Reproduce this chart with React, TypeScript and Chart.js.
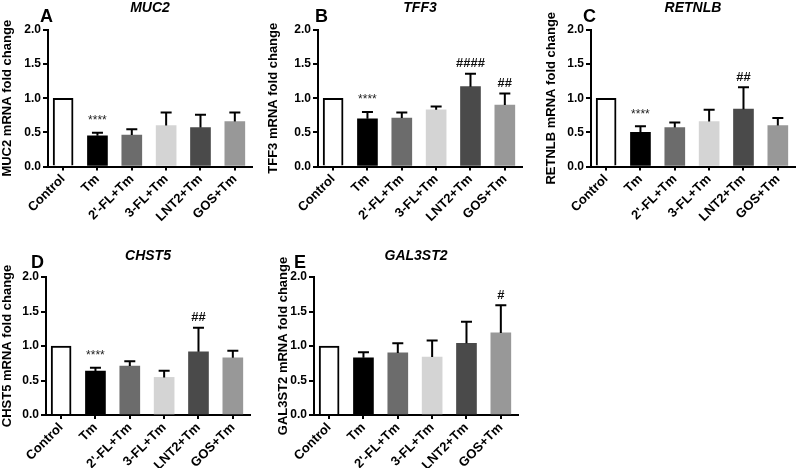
import React, { useEffect, useRef } from 'react';
import { Chart, registerables } from 'chart.js';

Chart.register(...registerables);

// ---------- data ----------
const categories = ['Control', 'Tm', "2'-FL+Tm", '3-FL+Tm', 'LNT2+Tm', 'GOS+Tm'];
const yTickValues = [0, 0.5, 1.0, 1.5, 2.0];

const muc2Means = [1.0, 0.45, 0.46, 0.6, 0.57, 0.66];
const muc2Errors = [0, 0.045, 0.085, 0.19, 0.19, 0.13];
const muc2Marks = ['', '****', '', '', '', ''];

const tff3Means = [1.0, 0.7, 0.71, 0.83, 1.17, 0.9];
const tff3Errors = [0, 0.1, 0.08, 0.05, 0.19, 0.17];
const tff3Marks = ['', '****', '', '', '####', '##'];

const retnlbMeans = [1.0, 0.5, 0.57, 0.66, 0.84, 0.6];
const retnlbErrors = [0, 0.09, 0.075, 0.17, 0.32, 0.11];
const retnlbMarks = ['', '****', '', '', '##', ''];

const chst5Means = [1.0, 0.635, 0.71, 0.545, 0.915, 0.83];
const chst5Errors = [0, 0.05, 0.07, 0.095, 0.35, 0.1];
const chst5Marks = ['', '****', '', '', '##', ''];

const gal3st2Means = [1.0, 0.83, 0.9, 0.84, 1.04, 1.19];
const gal3st2Errors = [0, 0.08, 0.14, 0.24, 0.31, 0.4];
const gal3st2Marks = ['', '', '', '', '', '#'];

// ---------- styles ----------
const barColors = ['#ffffff', '#000000', '#6c6c6c', '#d4d4d4', '#4a4a4a', '#989898'];
const FONT = "'Liberation Sans', Arial, Helvetica, sans-serif";

type PanelLayout = {
  letter: string;
  gene: string;
  means: number[];
  errors: number[];
  marks: string[];
  left: number;
  top: number;
  width: number;
  height: number;
  axisX: number;
  plotTop: number;
  plotBottom: number;
  letterX: number;
  letterBaseline: number;
  titleY: number;
};

const PLOT_W = 204;

const panels: PanelLayout[] = [
  { letter: 'A', gene: 'MUC2', means: muc2Means, errors: muc2Errors, marks: muc2Marks,
    left: 0, top: 0, width: 265, height: 235, axisX: 48, plotTop: 30, plotBottom: 166.5,
    letterX: 40, letterBaseline: 22, titleY: 8 },
  { letter: 'B', gene: 'TFF3', means: tff3Means, errors: tff3Errors, marks: tff3Marks,
    left: 266, top: 0, width: 270, height: 235, axisX: 318, plotTop: 30, plotBottom: 166.5,
    letterX: 315, letterBaseline: 22, titleY: 8 },
  { letter: 'C', gene: 'RETNLB', means: retnlbMeans, errors: retnlbErrors, marks: retnlbMarks,
    left: 544, top: 0, width: 256, height: 235, axisX: 591, plotTop: 30, plotBottom: 166.5,
    letterX: 583, letterBaseline: 22, titleY: 8 },
  { letter: 'D', gene: 'CHST5', means: chst5Means, errors: chst5Errors, marks: chst5Marks,
    left: 0, top: 235, width: 265, height: 233, axisX: 46, plotTop: 277, plotBottom: 415,
    letterX: 31, letterBaseline: 268, titleY: 256 },
  { letter: 'E', gene: 'GAL3ST2', means: gal3st2Means, errors: gal3st2Errors, marks: gal3st2Marks,
    left: 276, top: 235, width: 260, height: 233, axisX: 314, plotTop: 277, plotBottom: 415,
    letterX: 294, letterBaseline: 268, titleY: 256 },
];

function Panel({ p }: { p: PanelLayout }) {
  const ref = useRef<HTMLCanvasElement | null>(null);

  useEffect(() => {
    const canvas = ref.current;
    if (!canvas) return;

    const yAxisWidth = p.axisX - p.left;
    const xAxisHeight = p.top + p.height - p.plotBottom;
    const rightPad = p.left + p.width - (p.axisX + PLOT_W);

    const decorPlugin = {
      id: 'decor',
      afterDatasetsDraw(chart: any) {
        const ctx = chart.ctx as CanvasRenderingContext2D;
        const meta = chart.getDatasetMeta(0);
        const yScale = chart.scales.y;
        ctx.save();
        meta.data.forEach((el: any, i: number) => {
          const err = p.errors[i];
          const topVal = p.means[i] + err;
          const yTop = yScale.getPixelForValue(topVal);
          if (err > 0) {
            ctx.strokeStyle = '#000';
            ctx.lineWidth = 2;
            ctx.beginPath();
            ctx.moveTo(el.x, el.y);
            ctx.lineTo(el.x, yTop);
            ctx.moveTo(el.x - 5.5, yTop);
            ctx.lineTo(el.x + 5.5, yTop);
            ctx.stroke();
          }
          const mark = p.marks[i];
          if (mark) {
            ctx.textAlign = 'center';
            ctx.textBaseline = 'alphabetic';
            if (mark.startsWith('*')) {
              ctx.fillStyle = '#222';
              ctx.font = `12px ${FONT}`;
              ctx.fillText(mark, el.x, yTop - 8.5);
            } else {
              ctx.fillStyle = '#111';
              ctx.font = `bold 13px ${FONT}`;
              ctx.fillText(mark, el.x, yTop - 6.5);
            }
          }
        });
        ctx.restore();
      },
      afterDraw(chart: any) {
        const ctx = chart.ctx as CanvasRenderingContext2D;
        const area = chart.chartArea;
        ctx.save();
        ctx.fillStyle = '#000';
        ctx.textAlign = 'left';
        ctx.textBaseline = 'alphabetic';
        ctx.font = `bold 18px ${FONT}`;
        ctx.fillText(p.letter, p.letterX - p.left, p.letterBaseline - p.top);
        ctx.textAlign = 'center';
        ctx.textBaseline = 'middle';
        ctx.font = `italic bold 14px ${FONT}`;
        ctx.fillText(p.gene, (area.left + area.right) / 2, p.titleY - p.top);
        ctx.restore();
      },
    };

    const chart = new Chart(canvas, {
      type: 'bar',
      data: {
        datasets: [
          {
            data: p.means.map((v, i) => ({ x: i, y: v })),
            backgroundColor: barColors,
            borderColor: '#000',
            borderWidth: categories.map((_, i) => (i === 0 ? 2 : 0)),
            borderSkipped: 'start',
            barThickness: 20,
          } as any,
        ],
      },
      options: {
        responsive: false,
        maintainAspectRatio: false,
        animation: false,
        layout: { padding: { left: 0, top: p.plotTop - p.top, right: rightPad, bottom: 0 } },
        plugins: {
          legend: { display: false },
          tooltip: { enabled: false },
          title: { display: false },
        },
        scales: {
          x: {
            type: 'linear',
            min: -0.44,
            max: 5.5,
            offset: false,
            afterFit: (s: any) => {
              s.height = xAxisHeight;
            },
            ticks: {
              stepSize: 1,
              autoSkip: false,
              includeBounds: false,
              maxRotation: 45,
              minRotation: 45,
              padding: 1,
              color: '#000',
              font: { family: FONT, size: 13, weight: 'bold' },
              callback: (v: any) => {
                const idx = Math.round(Number(v));
                return Math.abs(Number(v) - idx) < 1e-6 && categories[idx] ? categories[idx] : '';
              },
            },
            grid: {
              display: true,
              drawOnChartArea: false,
              drawTicks: true,
              tickLength: 4,
              lineWidth: 2,
              color: '#000',
              offset: false,
            },
            border: { display: true, width: 2, color: '#000' },
          } as any,
          y: {
            min: 0,
            max: 2,
            afterFit: (s: any) => {
              s.width = yAxisWidth;
            },
            afterBuildTicks: (s: any) => {
              s.ticks = yTickValues.map((v) => ({ value: v }));
            },
            ticks: {
              padding: 2,
              color: '#000',
              font: { family: FONT, size: 12, weight: 'bold' },
              callback: (v: any) => Number(v).toFixed(1),
            },
            title: {
              display: true,
              text: `${p.gene} mRNA fold change`,
              color: '#000',
              font: { family: FONT, size: 13, weight: 'bold' },
              padding: { top: 0, bottom: 0 },
            },
            grid: {
              display: true,
              drawOnChartArea: false,
              drawTicks: true,
              tickLength: 5,
              lineWidth: 2,
              color: '#000',
            },
            border: { display: true, width: 2, color: '#000' },
          } as any,
        },
      },
      plugins: [decorPlugin],
    });

    return () => chart.destroy();
  }, [p]);

  return (
    <canvas
      ref={ref}
      width={p.width}
      height={p.height}
      style={{ position: 'absolute', left: p.left, top: p.top, width: p.width, height: p.height }}
    />
  );
}

export default function App() {
  return (
    <div
      style={{
        position: 'absolute',
        left: 0,
        top: 0,
        width: 800,
        height: 468,
        background: '#ffffff',
        overflow: 'hidden',
      }}
    >
      {panels.map((p) => (
        <Panel key={p.letter} p={p} />
      ))}
    </div>
  );
}
